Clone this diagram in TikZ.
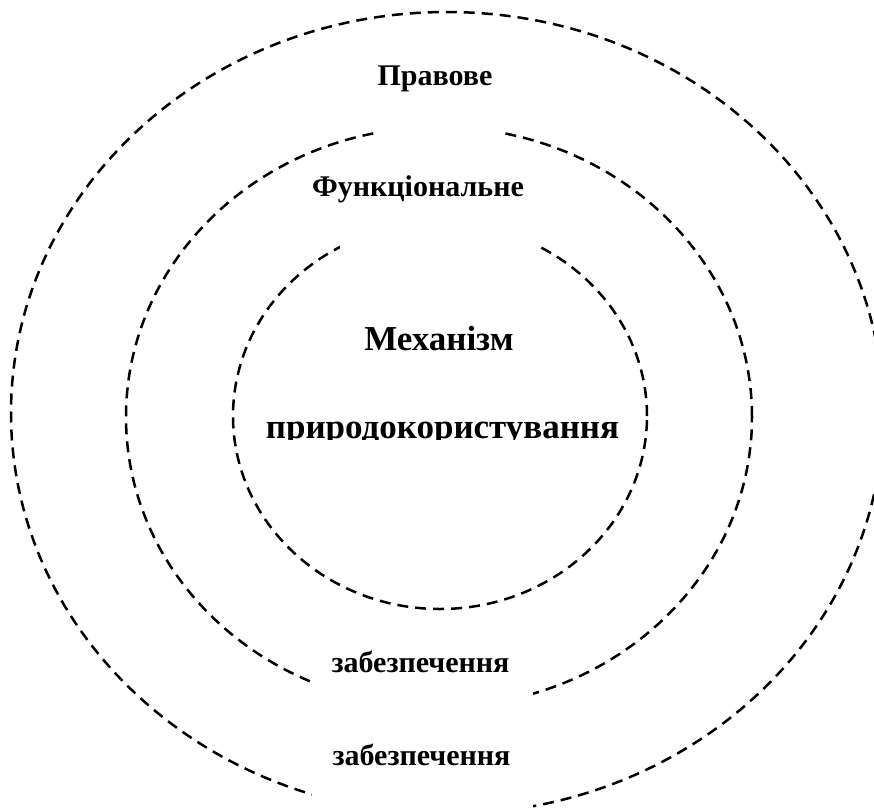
\documentclass[tikz,border=0pt]{standalone}
\usepackage{fontspec}
\setmainfont{Liberation Serif}
\begin{document}
\begin{tikzpicture}[x=0.5pt,y=-0.5pt,
  ring/.style={draw=black, line width=1.25pt, dash pattern=on 5.5pt off 3.5pt},
  lbl/.style={font=\fontsize{15pt}{18pt}\selectfont\bfseries, inner sep=0pt, anchor=base},
  big/.style={font=\fontsize{17.5pt}{21pt}\selectfont\bfseries, inner sep=0pt, anchor=base},
  blank/.style={fill=white}]
\useasboundingbox (0,0) rectangle (874,811);
\clip (0,0) rectangle (874,811);
% rings
\draw[ring] (447,413) ellipse [x radius=218pt, y radius=200.5pt];
\draw[ring] (439,417) ellipse [x radius=156.5pt, y radius=145pt];
\draw[ring] (440,416) ellipse [x radius=103.5pt, y radius=96.5pt];
% white text boxes that cut the rings
\fill[blank] (377,35) rectangle (503,145);
\fill[blank] (340,160) rectangle (537,255);
\fill[blank] (312,635) rectangle (533,815);
% labels
\node[lbl] (pravove) at (435,85) {Правове};
\node[lbl] (funk) at (418,196) {Функціональне};
\node[big] (mech) at (439,350) {Механізм};
\begin{scope}
  \clip (250,400) rectangle (640,439);
  \node[big] (pryrodo) at (442.5,438) {природокористування};
\end{scope}
\node[lbl] (zab1) at (420.5,672) {забезпечення};
\node[lbl] (zab2) at (421.5,765) {забезпечення};
\end{tikzpicture}
\end{document}
